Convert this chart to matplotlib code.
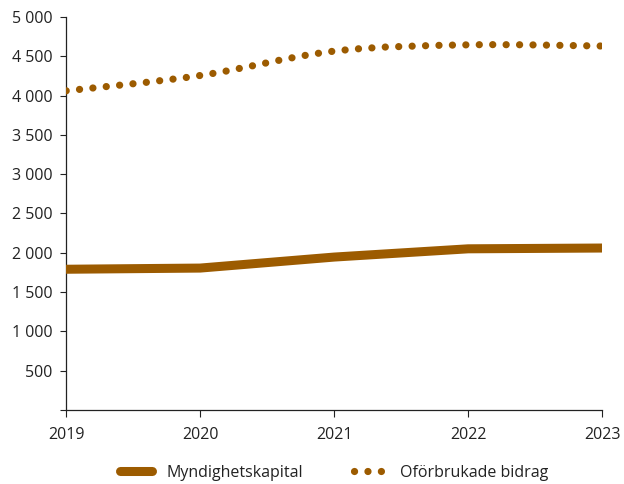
"""Myndighetskapital och oförbrukade bidrag 2019-2023"""

import matplotlib
matplotlib.use("Agg")
import matplotlib.pyplot as plt
from matplotlib.path import Path
from matplotlib.patches import PathPatch
from matplotlib.lines import Line2D
from matplotlib.ticker import FuncFormatter
import numpy as np

plt.rcParams['font.family'] = ['Open Sans', 'DejaVu Sans']

years = [2019, 2020, 2021, 2022, 2023]
myndighetskapital = [1790, 1805, 1945, 2050, 2060]
oforbrukade_bidrag = [4060, 4255, 4565, 4645, 4630]

BROWN = '#9c5b00'
TEXT = '#222222'


def smooth_path(x, y):
    """Catmull-Rom style bezier path through the points (Excel 'smoothed line')."""
    pts = np.column_stack([x, y]).astype(float)
    verts = [pts[0]]
    codes = [Path.MOVETO]
    n = len(pts)
    for i in range(n - 1):
        p0 = pts[max(i - 1, 0)]
        p1 = pts[i]
        p2 = pts[i + 1]
        p3 = pts[min(i + 2, n - 1)]
        c1 = p1 + (p2 - p0) / 6
        c2 = p2 - (p3 - p1) / 6
        verts += [c1, c2, p2]
        codes += [Path.CURVE4] * 3
    return Path(verts, codes)


fig = plt.figure(figsize=(6.24, 4.84), dpi=100)
ax = fig.add_axes([0.106, 0.153, 0.859, 0.812])

ax.plot(years, myndighetskapital, color=BROWN, lw=6.5,
        solid_capstyle='round', solid_joinstyle='round', zorder=3)

DOT_LW = 5.2
dot_style = (0, (0.01, 1.85))
patch = PathPatch(smooth_path(years, oforbrukade_bidrag), facecolor='none',
                  edgecolor=BROWN, lw=DOT_LW, linestyle=dot_style,
                  capstyle='round', zorder=3)
ax.add_patch(patch)

ax.set_xlim(2019, 2023)
ax.set_ylim(0, 5000)
ax.set_xticks(years)
ax.set_yticks(np.arange(0, 5001, 500))
ax.yaxis.set_major_formatter(FuncFormatter(
    lambda v, p: '' if v == 0 else f'{int(v):,}'.replace(',', ' ')))

for s in ['top', 'right']:
    ax.spines[s].set_visible(False)
for s in ['left', 'bottom']:
    ax.spines[s].set_color(TEXT)
    ax.spines[s].set_linewidth(0.9)

ax.tick_params(axis='both', direction='out', colors=TEXT, labelsize=11.5,
               width=0.8)
ax.tick_params(axis='y', length=4, pad=6)
ax.tick_params(axis='x', length=5, pad=7)

handles = [
    Line2D([], [], color=BROWN, lw=6.5, solid_capstyle='round'),
    Line2D([], [], color=BROWN, lw=DOT_LW, linestyle=dot_style,
           dash_capstyle='round'),
]
ax.legend(handles, ['Myndighetskapital', 'Oförbrukade bidrag'],
          loc='center', bbox_to_anchor=(0.5, -0.16), ncol=2, frameon=False,
          fontsize=11.5, handlelength=2.0, handletextpad=0.9,
          columnspacing=3.2, labelcolor=TEXT)

fig.savefig('out.png', dpi=100)
